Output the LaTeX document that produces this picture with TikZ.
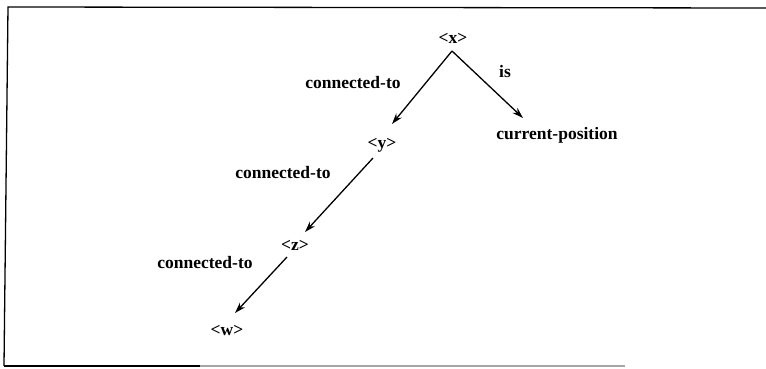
\documentclass[tikz,border=0pt]{standalone}
\usepackage{fontspec}
\setmainfont{Liberation Serif}
\usetikzlibrary{arrows.meta,calc}
\begin{document}
\begin{tikzpicture}[x=1pt,y=-1pt,
  lbl/.style={font=\fontsize{17.5}{20}\selectfont\bfseries, inner sep=0pt},
  arr/.style={-{Stealth[length=11pt,width=7pt]}, line width=1.3pt},
  frame/.style={line width=1.3pt}]
\useasboundingbox (0,0) rectangle (766,369);
% frame
\draw[frame] (4,366) -- (8,7) -- (766,8);
\draw[frame] (4,366) -- (200,366);
\draw[frame, black!35] (200,366) -- (625,366);
% nodes
\node[lbl] (x) at (453,38) {<x>};
\node[lbl] (y) at (382,145) {<y>};
\node[lbl] (z) at (295,245) {<z>};
\node[lbl] (w) at (227,330) {<w>};
\node[lbl] (cp) at (557,135) {current-position};
% edge labels
\node[lbl] (l1) at (353,83) {connected-to};
\node[lbl] (l2) at (283,173) {connected-to};
\node[lbl] (l3) at (205,263) {connected-to};
\node[lbl] (l4) at (505,72) {is};
% connectors
\draw[arr] ($(x)+(-1,13)$) -- ($(y)+(10,-21)$);
\draw[arr] ($(x)+(-1,13)$) -- ($(cp)+(-34,-17)$);
\draw[arr] ($(y)+(-9,13)$) -- ($(z)+(10,-13)$);
\draw[arr] ($(z)+(-8,12)$) -- ($(w)+(8,-17)$);
\end{tikzpicture}
\end{document}
